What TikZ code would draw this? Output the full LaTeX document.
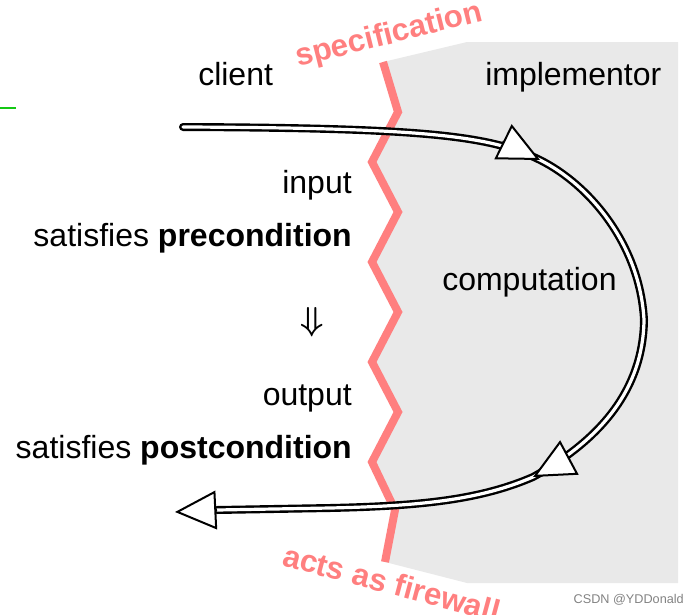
\documentclass[tikz,border=0pt]{standalone}
\usepackage{fontspec}
\setmainfont{Liberation Sans}
\usetikzlibrary{arrows.meta}
\definecolor{fw}{RGB}{255,127,127}
\definecolor{implgray}{RGB}{233,233,233}
\definecolor{wmgray}{RGB}{130,130,130}
\definecolor{greenmark}{RGB}{20,200,20}
\begin{document}
\begin{tikzpicture}[x=0.75pt,y=-0.75pt,
  lbl/.style={inner sep=0pt, font=\fontsize{24pt}{28pt}\selectfont},
  redlbl/.style={inner sep=0pt, text=fw, font=\fontsize{23.5pt}{27pt}\selectfont\bfseries},
  flow/.style={draw=black, line width=1.8pt, double=white, double distance=2.4pt, line cap=round},
  headtip/.style={draw=black, line width=1.5pt, -{Triangle[length=31pt, width=29pt, fill=white]}},
  zig/.style={draw=fw, line width=6pt}
]
\useasboundingbox (0,0) rectangle (699,614);
\clip (0,0) rectangle (699,614);

% zigzag points
\coordinate (z0) at (383,62);
\coordinate (z1) at (398,112);
\coordinate (z2) at (372,162);
\coordinate (z3) at (398,212);
\coordinate (z4) at (372,262);
\coordinate (z5) at (398,312);
\coordinate (z6) at (372,362);
\coordinate (z7) at (398,412);
\coordinate (z8) at (372,462);
\coordinate (z9) at (395,510);
\coordinate (z10) at (385,562);

% implementor region
\fill[implgray] (z0) -- (467,42) -- (678,42) -- (678,583) -- (467,583) -- (z10)
  -- (z9) -- (z8) -- (z7) -- (z6) -- (z5) -- (z4) -- (z3) -- (z2) -- (z1) -- cycle;

% firewall
\draw[zig] (z0) -- (z1) -- (z2) -- (z3) -- (z4) -- (z5) -- (z6) -- (z7) -- (z8) -- (z9) -- (z10);

% texts
\node[lbl, anchor=base west] (client) at (198,85) {client};
\node[lbl, anchor=base west] (impl) at (485,85) {implementor};
\node[lbl, anchor=base east] (input) at (352,193) {input};
\node[lbl, anchor=base east] (pre) at (352,246) {satisfies \textbf{precondition}};
\node[inner sep=0pt, font={\fontsize{28pt}{30pt}\selectfont\boldmath}] (impl2) at (312,322) {$\Downarrow$};
\node[lbl, anchor=base east] (output) at (352,405) {output};
\node[lbl, anchor=base east] (post) at (352,458) {satisfies \textbf{postcondition}};
\node[lbl, anchor=base west] (comp) at (442,290) {computation};

\node[redlbl, anchor=base west, rotate=14] (spec) at (298,67) {specification};
\node[redlbl, anchor=base west, rotate=-15] (fire) at (281,565) {acts as firewall};

\node[inner sep=0pt, anchor=base east, text=wmgray, font=\fontsize{9.5pt}{11pt}\selectfont] (wm) at (684,603) {CSDN @YDDonald};

% green mark
\coordinate (g0) at (0,108);
\coordinate (g1) at (16,108);
\draw[greenmark, line width=1.5pt] (g0) -- (g1);

% flow path
\coordinate (c0) at (183,127);
\coordinate (h1) at (540,160);
\coordinate (h1b) at (502.5,141.5);
\coordinate (h2) at (533,477);
\coordinate (h2b) at (567.5,458.5);
\coordinate (e) at (175,512);
\coordinate (eb) at (217,510);

\draw[flow] (c0) .. controls (420,128) and (490,135) .. (h1)
  .. controls (590,185) and (640,245) .. (644,320)
  .. controls (643,390) and (600,440) .. (h2)
  .. controls (480,500) and (420,506) .. (330,508) -- (eb);

\draw[headtip] (h1b) -- (h1);
\draw[headtip] (h2b) -- (h2);
\draw[headtip] (eb) -- (e);
\end{tikzpicture}
\end{document}
